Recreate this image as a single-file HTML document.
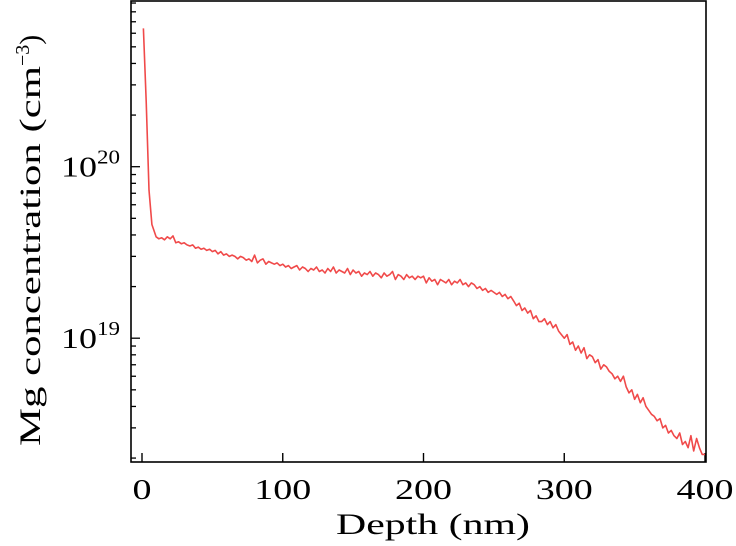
<!DOCTYPE html>
<html><head><meta charset="utf-8">
<style>
html,body{margin:0;padding:0;background:#fff;}
svg{display:block;font-family:"Liberation Serif",serif;}
</style></head>
<body>
<svg id="chart" width="736" height="546" viewBox="0 0 736 546" xmlns="http://www.w3.org/2000/svg">
<g id="ticks"></g>
<g id="series"></g>
<rect x="131" y="1" width="575" height="461" fill="none" stroke="#000" stroke-width="1.6"/>
<text x="336" y="534" font-size="30" textLength="194" lengthAdjust="spacingAndGlyphs">Depth (nm)</text>
<text transform="translate(40,446) rotate(-90)" font-size="30">
<tspan textLength="380" lengthAdjust="spacingAndGlyphs">Mg concentration (cm</tspan><tspan dy="-11" font-size="20">−3</tspan><tspan dy="11">)</tspan></text>
</svg>
<script>
const xTicks=[0,100,200,300,400];
const yDecades=[19,20];
const headDepths=[1,3,5,7];
const headValues=[64,24,7.3,4.6];
const bodyStart=10, bodyStep=2;
const bodyValues=[
3.9,3.8,3.85,3.75,3.9,3.8,3.95,3.6,3.65,3.55,3.6,3.5,3.45,3.5,3.35,3.4,3.3,3.35,3.25,3.3,
3.2,3.25,3.1,3.2,3.05,3.1,3.0,3.05,3.0,2.9,3.0,2.95,2.85,2.9,2.8,3.05,2.75,2.85,2.9,2.7,2.8,2.75,2.7,2.75,2.65,
2.7,2.6,2.65,2.55,2.6,2.65,2.5,2.6,2.55,2.45,2.55,2.5,2.6,2.45,2.5,2.4,2.55,2.45,2.6,2.4,2.5,2.45,2.4,2.55,2.35,
2.5,2.4,2.45,2.3,2.4,2.35,2.45,2.3,2.4,2.35,2.25,2.4,2.3,2.35,2.45,2.2,2.35,2.3,2.2,2.35,2.25,2.3,2.2,2.3,2.25,
2.3,2.1,2.25,2.15,2.2,2.05,2.2,2.15,2.1,2.2,2.05,2.15,2.1,2.2,2.05,2.1,2.0,2.1,2.05,1.95,2.0,1.9,1.95,1.85,1.9,
1.85,1.8,1.85,1.75,1.8,1.7,1.75,1.65,1.55,1.6,1.45,1.5,1.4,1.45,1.3,1.35,1.25,1.25,1.3,1.2,1.25,1.15,1.2,1.1,1.05,
1.0,1.05,0.92,0.95,0.85,0.9,0.82,0.88,0.76,0.8,0.78,0.72,0.75,0.66,0.7,0.68,0.64,0.62,0.58,0.6,0.56,0.6,0.52,0.48,0.5,
0.44,0.47,0.42,0.45,0.4,0.38,0.36,0.35,0.33,0.34,0.3,0.31,0.28,0.29,0.27,0.26,0.28,0.24,0.25,0.23,0.27,0.22,0.26,0.23,0.21,
0.21];
const NS="http://www.w3.org/2000/svg";
const X=d=>142+d*(705-142)/400;
const Y=v=>166.7-(Math.log10(v*1e19)-20)*171.5;
function mk(t,a,p){const e=document.createElementNS(NS,t);for(const k in a)e.setAttribute(k,a[k]);p.appendChild(e);return e;}
const tg=document.getElementById('ticks');
xTicks.forEach(t=>{
  const l=mk('line',{x1:X(t),x2:X(t),y1:462,y2:453,stroke:'#000','stroke-width':1.4},tg);
  
  
  const w=String(t).length*19;
  const s=mk('text',{x:X(t)-w/2,y:499,'font-size':29,textLength:w,lengthAdjust:'spacingAndGlyphs'},tg);
  s.textContent=t;
  
  
});
for(let dec=18;dec<=20;dec++){
  for(let m=1;m<=9;m++){
    const y=166.7-(dec+Math.log10(m)-20)*171.5;
    if(y<2||y>461)continue;
    const l=mk('line',{x1:131,x2:m===1?140:136,y1:y,y2:y,stroke:'#000','stroke-width':1.3},tg);
    
    
  }
}
yDecades.forEach(d=>{
  const y=166.7-(d-20)*171.5;
  const s=mk('text',{x:61,y:y+10,'font-size':29},tg);
  s.innerHTML='<tspan textLength="36" lengthAdjust="spacingAndGlyphs">10</tspan><tspan dy="-13" font-size="20" textLength="23" lengthAdjust="spacingAndGlyphs">'+d+'</tspan>';
  
  
});
const pts=[];
headDepths.forEach((d,i)=>pts.push([X(d),Y(headValues[i])]));
bodyValues.forEach((v,i)=>pts.push([X(bodyStart+i*bodyStep),Y(v)]));
const p=mk('polyline',{points:pts.map(q=>q[0].toFixed(1)+','+q[1].toFixed(1)).join(' '),fill:'none',stroke:'#f04a4a','stroke-width':1.6,'stroke-linejoin':'round'},document.getElementById('series'));


</script>
</body></html>
